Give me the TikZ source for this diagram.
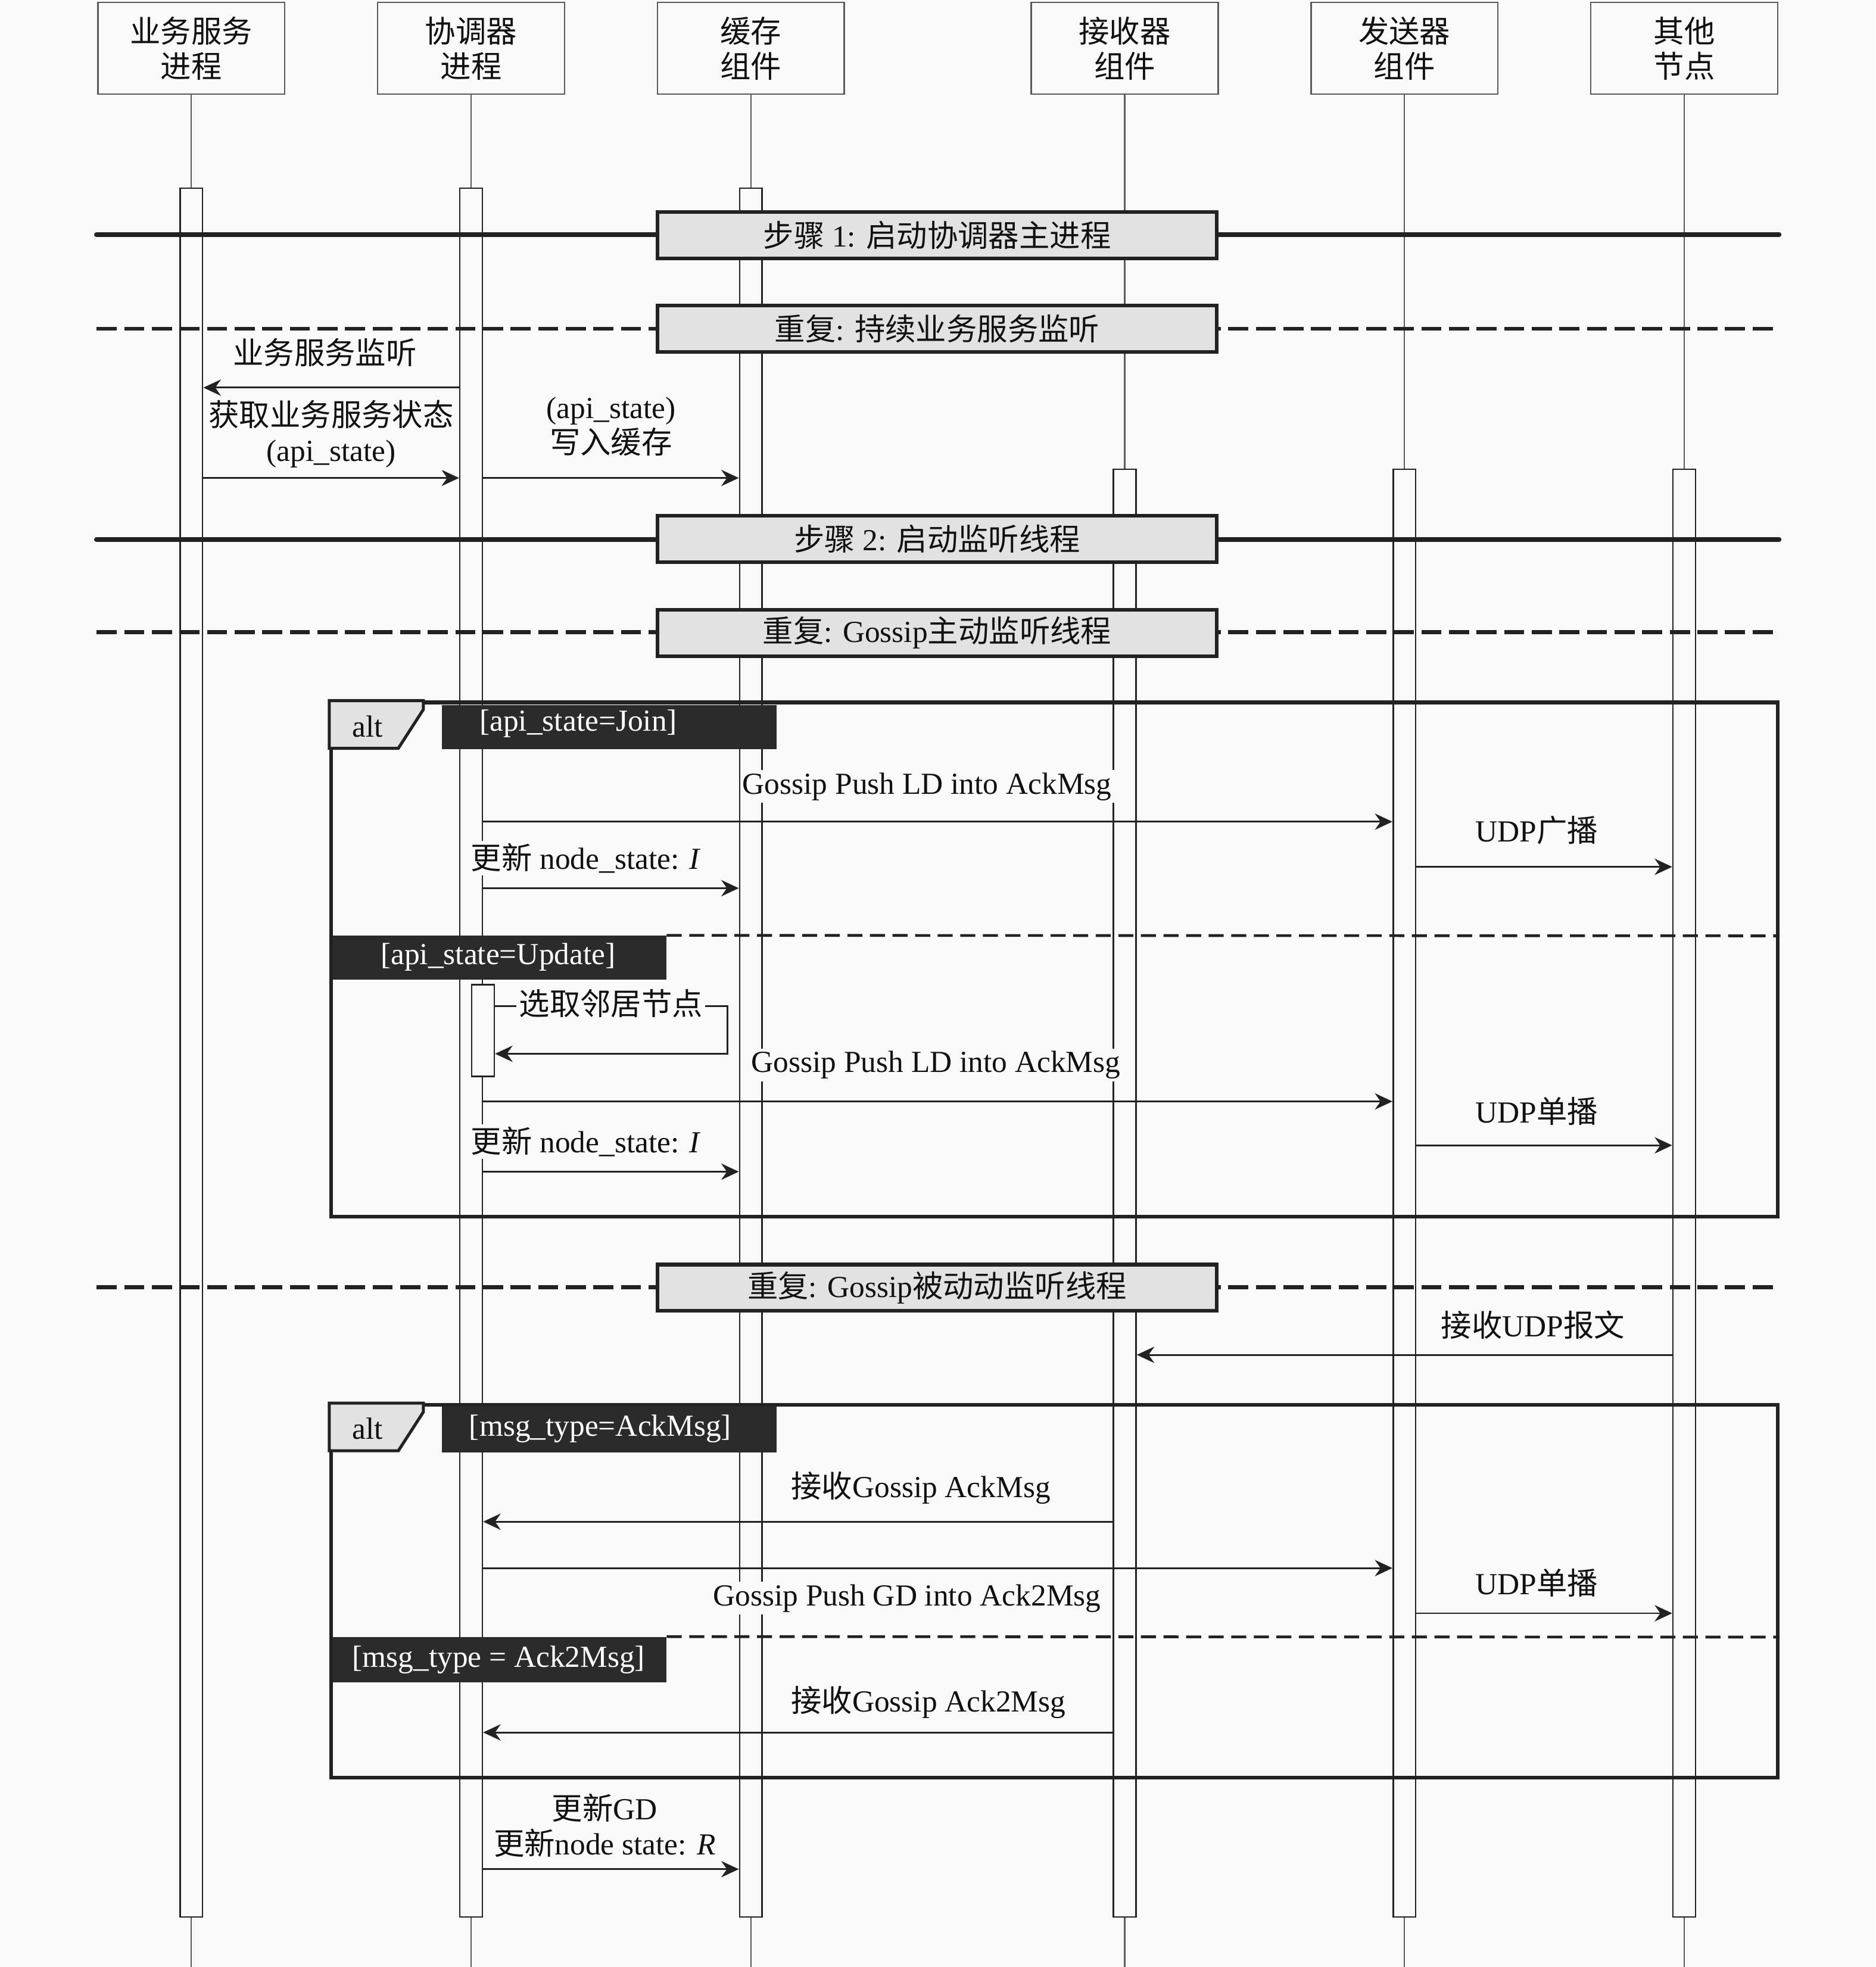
\documentclass[tikz,border=0pt]{standalone}
\usepackage{fontspec}
\setmainfont{Liberation Serif}
\newfontfamily\cjk{Noto Sans CJK SC}
\usetikzlibrary{arrows.meta}
\definecolor{bgc}{HTML}{F9F9F9}
\definecolor{boxgray}{HTML}{E2E2E2}
\definecolor{darkc}{HTML}{2B2B2B}
\definecolor{linec}{HTML}{222222}
\definecolor{hdgray}{HTML}{5A5A5A}
\definecolor{textc}{HTML}{111111}
\newcommand\zh[1]{{\cjk #1}}
\tikzset{
  head/.style={draw=hdgray, fill=bgc, line width=0.6pt, minimum width=74.5pt, minimum height=36.5pt, align=center, inner sep=0pt},
  life/.style={draw=hdgray, line width=0.5pt},
  actbar/.style={draw=linec, fill=bgc, line width=0.6pt, minimum width=9pt, inner sep=0pt},
  divsolid/.style={draw=linec, line width=2pt, line cap=round},
  divdash/.style={draw=linec, line width=1.6pt, dash pattern=on 8pt off 3pt},
  divbox/.style={draw=linec, fill=boxgray, line width=1.5pt, minimum width=223pt, minimum height=18.5pt, inner sep=0pt},
  frame/.style={draw=linec, line width=1.5pt, minimum width=576.5pt, inner sep=0pt},
  altpent/.style={draw=linec, fill=boxgray, line width=1.2pt},
  guard/.style={fill=darkc, inner sep=0pt},
  guardtxt/.style={text=white, inner sep=0pt},
  altsep/.style={draw=linec, line width=1.1pt, dash pattern=on 6pt off 3pt},
  msg/.style={draw=linec, line width=0.7pt, -{Stealth[length=7pt,width=6.5pt]}},
  lbl/.style={fill=bgc, inner sep=1pt, align=center},
}
\begin{document}
\begin{tikzpicture}[x=0.5pt,y=-0.5pt, font=\fontsize{12.2pt}{14pt}\selectfont, text=textc]
\fill[bgc] (0,0) rectangle (1495,1568);
\useasboundingbox (0,0) rectangle (1495,1568);

% headers
\node[head] (h1) at (152.5,38.5) {\zh{业务服务}\\\zh{进程}};
\node[head] (h2) at (375.5,38.5) {\zh{协调器}\\\zh{进程}};
\node[head] (h3) at (598.5,38.5) {\zh{缓存}\\\zh{组件}};
\node[head] (h4) at (896.5,38.5) {\zh{接收器}\\\zh{组件}};
\node[head] (h5) at (1119.5,38.5) {\zh{发送器}\\\zh{组件}};
\node[head] (h6) at (1342.5,38.5) {\zh{其他}\\\zh{节点}};

% lifelines
\foreach \n in {1,...,6} \draw[life] (h\n.south) -- (h\n.south |- 0,1568);

% activation bars
\node[actbar, minimum height=689pt] (b1) at (152.5,839) {};
\node[actbar, minimum height=689pt] (b2) at (375.5,839) {};
\node[actbar, minimum height=689pt] (b3) at (598.5,839) {};
\node[actbar, minimum height=577pt] (b4) at (896.5,951) {};
\node[actbar, minimum height=577pt] (b5) at (1119.5,951) {};
\node[actbar, minimum height=577pt] (b6) at (1342.5,951) {};

% dividers
\coordinate (sL1) at (77,187);  \coordinate (sR1) at (1418,187);
\coordinate (sL2) at (77,262);  \coordinate (sR2) at (1418,262);
\coordinate (sL3) at (77,430);  \coordinate (sR3) at (1418,430);
\coordinate (sL4) at (77,504);  \coordinate (sR4) at (1418,504);
\coordinate (sL5) at (77,1026); \coordinate (sR5) at (1418,1026);
\draw[divsolid] (sL1) -- (sR1);
\draw[divdash] (sL2) -- (sR2);
\draw[divsolid] (sL3) -- (sR3);
\draw[divdash] (sL4) -- (sR4);
\draw[divdash] (sL5) -- (sR5);
\node[divbox] (s1) at (747,187.5) {\zh{步骤} 1: \zh{启动协调器主进程}};
\node[divbox] (s2) at (747,262) {\zh{重复}: \zh{持续业务服务监听}};
\node[divbox] (s3) at (747,429.5) {\zh{步骤} 2: \zh{启动监听线程}};
\node[divbox] (s4) at (747,504.5) {\zh{重复}: Gossip\zh{主动监听线程}};
\node[divbox] (s5) at (747,1026.5) {\zh{重复}: Gossip\zh{被动动监听线程}};

% alt frame 1
\node[guard, minimum width=133.5pt, minimum height=17.5pt] (g1) at (485.5,579.5) {};
\node[guardtxt] (g1t) at (461,577) {[api\_state=Join]};
\node[guard, minimum width=133.5pt, minimum height=17.5pt] (g2) at (397.5,763.5) {};
\node[guardtxt] (g2t) at (397,763) {[api\_state=Update]};
\node[frame, minimum height=205pt] (f1) at (840.5,765) {};
\filldraw[altpent] (f1.north west) -- ++(75,0) -- ++(0,7) -- ++(-20,31) -- ++(-55,0) -- cycle;
\node (a1) at (293,579) {alt};
\draw[altsep] (g2.north east) -- (f1.east |- 0,746);

% alt frame 2
\node[guard, minimum width=133.5pt, minimum height=18.5pt] (g3) at (485.5,1139.5) {};
\node[guardtxt] (g3t) at (478.5,1139) {[msg\_type=AckMsg]};
\node[guard, minimum width=133.5pt, minimum height=18pt] (g4) at (397.5,1323) {};
\node[guardtxt] (g4t) at (397.5,1323) {[msg\_type = Ack2Msg]};
\node[frame, minimum height=148.5pt] (f2) at (840.5,1268.5) {};
\filldraw[altpent] (f2.north west) -- ++(75,0) -- ++(0,7) -- ++(-20,31) -- ++(-55,0) -- cycle;
\node (a2) at (293,1139) {alt};
\draw[altsep] (g4.north east) -- (f2.east |- 0,1305);

% small activation bar
\node[actbar, minimum height=36.5pt] (sb) at (385,821.5) {};

% messages
\draw[msg] (b2.west |- 0,309) -- (b1.east |- 0,309);
\draw[msg] (b1.east |- 0,381) -- (b2.west |- 0,381);
\draw[msg] (b2.east |- 0,381) -- (b3.west |- 0,381);
\draw[msg] (b2.east |- 0,655) -- (b5.west |- 0,655);
\draw[msg] (b5.east |- 0,691) -- (b6.west |- 0,691);
\draw[msg] (b2.east |- 0,708) -- (b3.west |- 0,708);
\coordinate (sm1) at (580,802); \coordinate (sm2) at (580,840);
\draw[msg] (sb.east |- sm1) -- (sm1) -- (sm2) -- (sb.east |- sm2);
\draw[msg] (b2.east |- 0,878) -- (b5.west |- 0,878);
\draw[msg] (b5.east |- 0,913) -- (b6.west |- 0,913);
\draw[msg] (b2.east |- 0,934) -- (b3.west |- 0,934);
\draw[msg] (b6.west |- 0,1080) -- (b4.east |- 0,1080);
\draw[msg] (b4.west |- 0,1213) -- (b2.east |- 0,1213);
\draw[msg] (b2.east |- 0,1250) -- (b5.west |- 0,1250);
\draw[msg] (b5.east |- 0,1286) -- (b6.west |- 0,1286);
\draw[msg] (b4.west |- 0,1381) -- (b2.east |- 0,1381);
\draw[msg] (b2.east |- 0,1490) -- (b3.west |- 0,1490);

% labels
\node[lbl] (l1) at (259,281) {\zh{业务服务监听}};
\node[lbl] (l2) at (264,346) {\zh{获取业务服务状态}\\(api\_state)};
\node[lbl] (l3) at (487,340) {(api\_state)\\\zh{写入缓存}};
\node[lbl] (l4) at (739,627) {Gossip Push LD into AckMsg};
\node[lbl] (l5) at (1225,662) {UDP\zh{广播}};
\node[lbl] (l6) at (467,684) {\zh{更新} node\_state: \textit{I}};
\node[lbl] (l7) at (487,800) {\zh{选取邻居节点}};
\node[lbl] (l8) at (746,849) {Gossip Push LD into AckMsg};
\node[lbl] (l9) at (1225,886) {UDP\zh{单播}};
\node[lbl] (l10) at (467,910) {\zh{更新} node\_state: \textit{I}};
\node[lbl] (l11) at (1222,1056) {\zh{接收}UDP\zh{报文}};
\node[lbl] (l12) at (734,1186) {\zh{接收}Gossip AckMsg};
\node[lbl] (l13) at (723,1274) {Gossip Push GD into Ack2Msg};
\node[lbl] (l14) at (1225,1262) {UDP\zh{单播}};
\node[lbl] (l15) at (740,1357) {\zh{接收}Gossip Ack2Msg};
\node[lbl] (l16) at (482,1455) {\zh{更新}GD\\\zh{更新}node state: \textit{R}};
\end{tikzpicture}
\end{document}
